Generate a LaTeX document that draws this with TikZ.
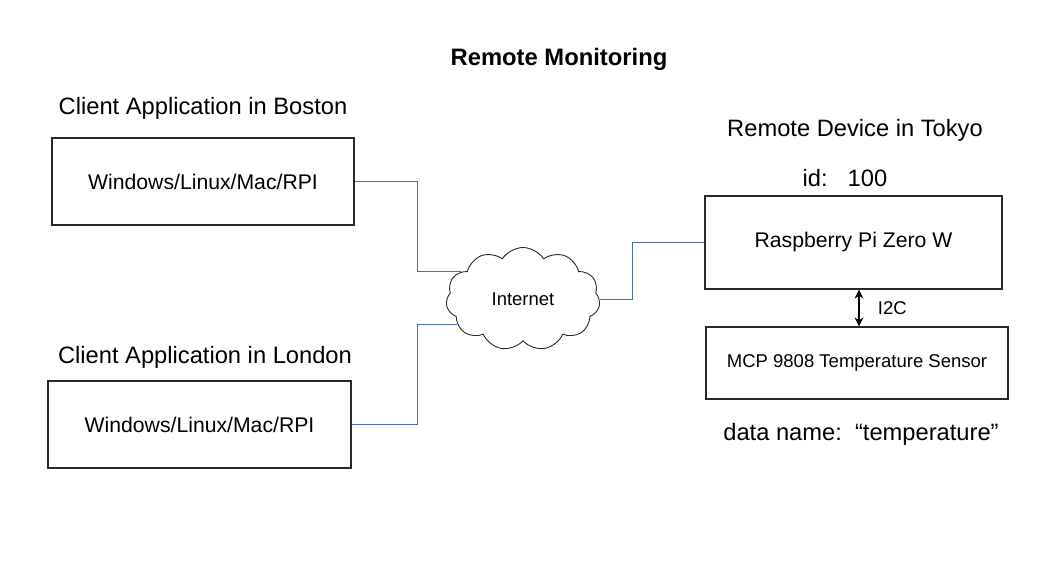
\documentclass[tikz,border=0pt]{standalone}
\usepackage{fontspec}
\setmainfont{Liberation Sans}
\usetikzlibrary{arrows.meta, positioning, shapes.symbols}
\definecolor{linkblue}{RGB}{72,110,172}
\definecolor{boxgray}{RGB}{40,40,40}

\begin{document}
\begin{tikzpicture}[x=1pt, y=-1pt,
    box/.style={draw=boxgray, line width=1.2pt, minimum width=#1, inner sep=0pt},
    lbl/.style={font=\fontsize{23.7}{28}\selectfont},
    boxtxt/.style={font=\fontsize{21.2}{25}\selectfont},
    small/.style={font=\fontsize{18.5}{22}\selectfont},
    link/.style={linkblue, line width=0.9pt}]
\useasboundingbox (0,0) rectangle (1056,576);

% Title
\node[font=\bfseries\fontsize{23.8}{28}\selectfont] (title) at (559,59) {Remote Monitoring};

% Clients
\node[lbl] (bostonlbl) at (203,108) {Client Application in Boston};
\node[box=302pt, minimum height=87pt, boxtxt] (boston) at (203,181.5) {Windows/Linux/Mac/RPI};
\node[lbl] (londonlbl) at (205,357) {Client Application in London};
\node[box=303pt, minimum height=87pt, boxtxt] (london) at (199.5,424.5) {Windows/Linux/Mac/RPI};

% Internet
\node[cloud, draw=boxgray, line width=0.9pt, cloud puffs=11, cloud puff arc=115, aspect=1.5,
      minimum width=154pt, minimum height=103pt, small] (net) at (523,299) {Internet};

% Remote device
\node[lbl] (tokyolbl) at (855,130) {Remote Device in Tokyo};
\node[lbl] (idlbl) at (845,178) {id:\hspace{20pt}100};
\node[box=297pt, minimum height=93pt, boxtxt] (rpi) at (853.5,242.5) {Raspberry Pi Zero W};
\node[box=302pt, minimum height=72pt, small] (mcp) at (857,363) {MCP 9808 Temperature Sensor};
\node[lbl] (datalbl) at (861,434) {data name:\ \ “temperature”};

% Connections
\draw[link] (boston.east) -- ++(63,0) |- (net.156);
\draw[link] (london.east) -- ++(66,0) |- (net.201);
\draw[link] (net.east) -- ++(33,0) |- (rpi.west);
\draw[line width=1.2pt, {Stealth[length=9pt,width=9pt]}-{Stealth[length=9pt,width=9pt]}] (rpi.south -| 859,0) -- (mcp.north -| 859,0)
    node[midway, right=15pt, small] (i2c) {I2C};

\end{tikzpicture}
\end{document}
